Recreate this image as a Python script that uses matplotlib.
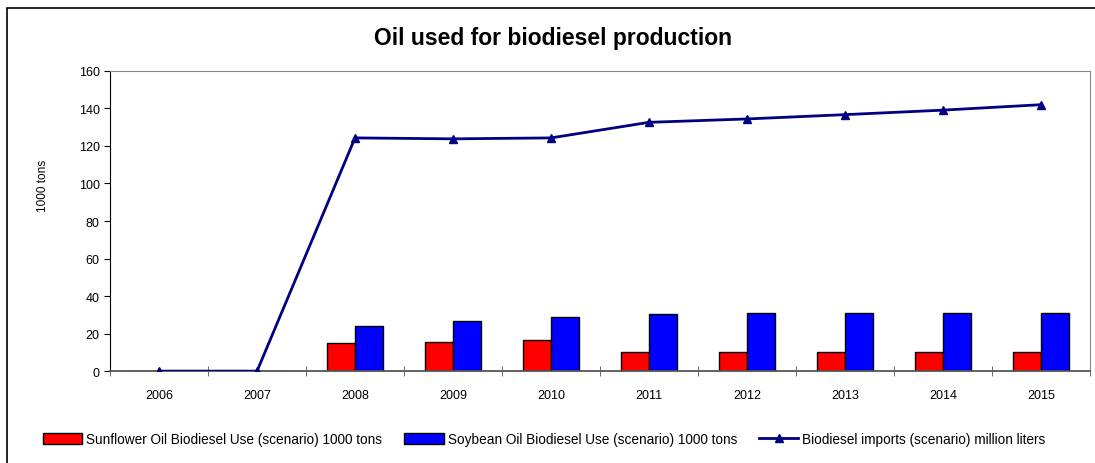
import matplotlib.pyplot as plt
from matplotlib.patches import Rectangle
import numpy as np

plt.rcParams['font.family'] = ['Liberation Sans', 'DejaVu Sans']

years = ['2006', '2007', '2008', '2009', '2010', '2011', '2012', '2013', '2014', '2015']
sunflower = [0, 0, 15.0, 15.5, 16.4, 10.3, 10.0, 10.0, 10.0, 10.0]
soybean = [0, 0, 24.0, 26.8, 28.6, 30.4, 30.8, 30.8, 30.8, 30.8]
imports = [0, 0, 124.3, 123.8, 124.3, 132.6, 134.4, 136.7, 139.1, 142.0]

fig = plt.figure(figsize=(10.95, 4.64), dpi=100)
# outer chart frame (right and bottom edges fall outside the image)
fig.patches.append(Rectangle((7 / 1095, -0.1), 1.2, 1.1 - 9 / 464, transform=fig.transFigure,
                             fill=False, edgecolor='black', linewidth=1.2))
ax = fig.add_axes([0.1005, 0.198, 0.8949, 0.647])

x = np.arange(len(years))
w = 0.29
line, = ax.plot(x, imports, color='#000080', linewidth=2, marker='^', markersize=6,
                label='Biodiesel imports (scenario) million liters', zorder=3)
b1 = ax.bar(x - w / 2, sunflower, w, color='#ff0000', edgecolor='black', linewidth=1,
            label='Sunflower Oil Biodiesel Use (scenario) 1000 tons')
b2 = ax.bar(x + w / 2, soybean, w, color='#0000ff', edgecolor='black', linewidth=1,
            label='Soybean Oil Biodiesel Use (scenario) 1000 tons')

ax.set_xlim(-0.5, len(years) - 0.5)
ax.set_ylim(0, 160)
ax.set_yticks(range(0, 161, 20))
ax.set_xticks(x)
ax.set_xticklabels(years, fontsize=9)
ax.set_xticks(np.arange(-0.5, len(years)), minor=True)
ax.tick_params(axis='x', which='major', length=0, pad=13)
ax.tick_params(axis='x', which='minor', length=7, direction='inout', color='#555555')
ax.tick_params(axis='y', labelsize=9, length=4, direction='out')

ax.spines['top'].set_color('#888888')
ax.spines['right'].set_color('#888888')
ax.spines['bottom'].set_color('#555555')
ax.spines['bottom'].set_linewidth(1.3)

ax.set_ylabel('1000 tons', fontsize=8.5)
ax.yaxis.set_label_coords(-0.062, 0.62)
fig.text(0.505, 0.918, 'Oil used for biodiesel production', ha='center', va='center',
         fontsize=16.5, fontweight='bold')

fig.legend([b1, b2, line], [b1.get_label(), b2.get_label(), line.get_label()],
           loc='center', bbox_to_anchor=(0.497, 0.052), ncol=3, frameon=False,
           fontsize=9.8, handlelength=2.9, handleheight=0.9, columnspacing=1.6,
           handletextpad=0.3)

fig.savefig('out.png', dpi=100)
